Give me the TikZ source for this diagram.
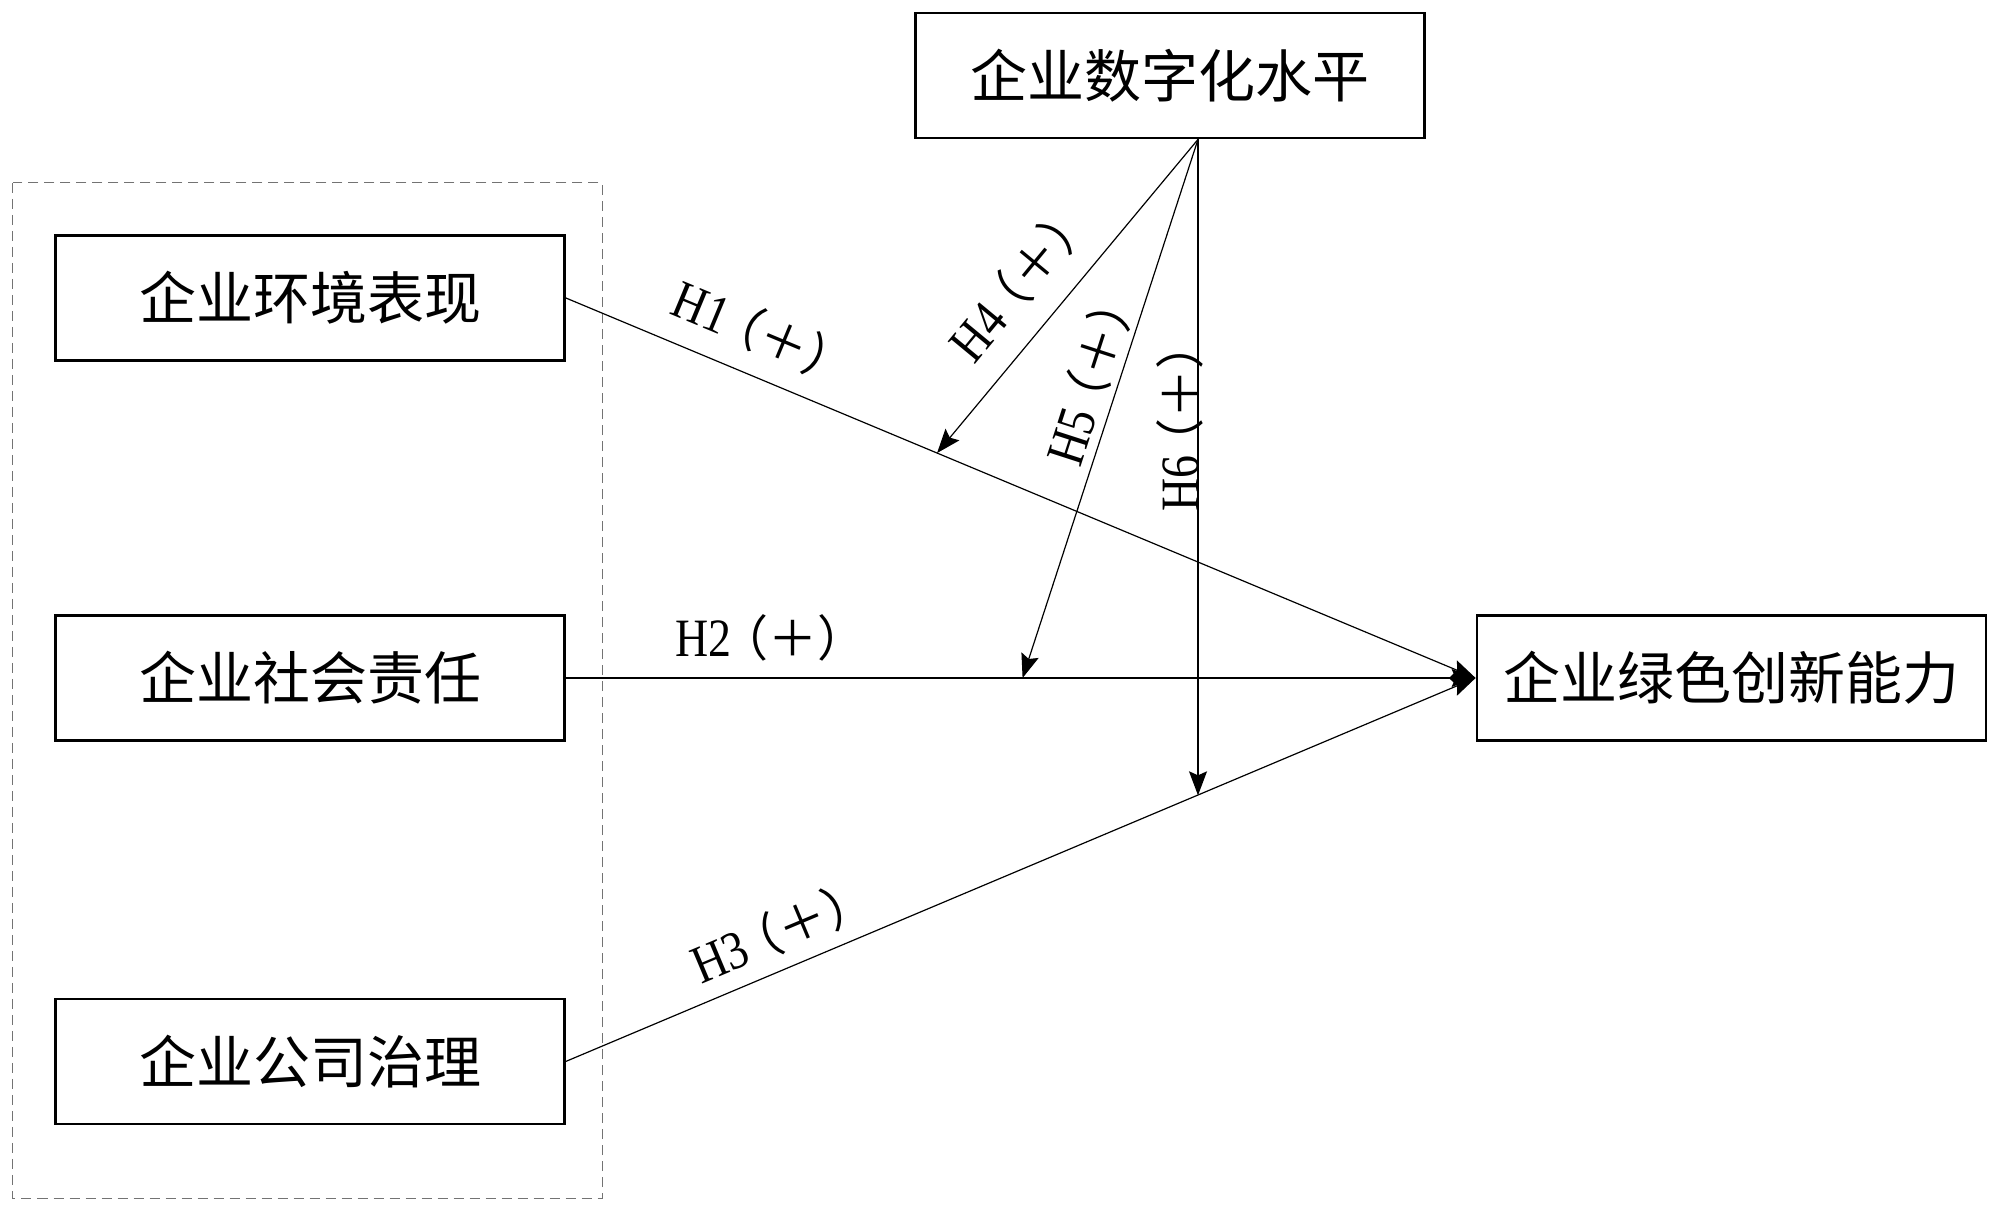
\documentclass[tikz,border=0pt]{standalone}
\usepackage{graphicx}
\usepackage{fontspec}
\setmainfont{Liberation Serif}
\newfontfamily\cjk{Noto Sans CJK SC}
\usetikzlibrary{arrows.meta,calc}
\newcommand{\hyp}[1]{\scalebox{0.85}[1]{\fontsize{27pt}{29pt}\selectfont H#1}\hspace{-6pt}{\cjk\fontsize{24.5pt}{26pt}\selectfont（＋）}}
\begin{document}
\begin{tikzpicture}[x=0.5pt,y=-0.5pt,
  box/.style={draw, line width=1.4pt, minimum width=254.5pt, minimum height=62.5pt, inner sep=0pt,
    font=\cjk\fontsize{28.5pt}{30pt}\selectfont},
  conn/.style={line width=0.6pt, -{Stealth[length=12pt,width=9pt,inset=2pt]}},
  dashbox/.style={draw=black!55, line width=0.6pt, dash pattern=on 5pt off 3pt},
  lab/.style={inner sep=0pt}]
\useasboundingbox (0,0) rectangle (2000,1213);
% group frame
\draw[dashbox] (12.8,182.9) rectangle (602.3,1198.2);
% boxes
\node[box] (dig) at (1170,75.5) {企业数字化水平};
\node[box] (e1) at (310,298) {企业环境表现};
\node[box] (e2) at (310,678) {企业社会责任};
\node[box] (e3) at (310,1061.4) {企业公司治理};
\node[box] (out) at (1731.5,678) {企业绿色创新能力};
% main effects
\draw[conn] (e1.east) -- (out.west);
\draw[conn] (e2.east) -- (out.west);
\draw[conn] (e3.east) -- (out.west);
% moderation
\coordinate (apex) at ($(dig.south)+(28,0)$);
\coordinate (m4) at ($(e1.east)!0.408!(out.west)$);
\coordinate (m5) at ($(e2.east)!0.502!(out.west)$);
\coordinate (m6t) at ($(e3.east)!0.694!(out.west)$);
\coordinate (m6) at (apex |- m6t);
\draw[conn] (apex) -- (m4);
\draw[conn] (apex) -- (m5);
\draw[conn] (apex) -- (m6);
% labels
\node[lab, rotate=-22.6] (l1) at (764,333) {\hyp{1}};
\node[lab] (l2) at (771,638) {\hyp{2}};
\node[lab, rotate=22.8] (l3) at (782,930) {\hyp{3}};
\node[lab, rotate=50.4] (l4) at (1021,280) {\hyp{4}};
\node[lab, rotate=72.1] (l5) at (1092,372) {\hyp{5}};
\node[lab, rotate=90] (l6) at (1180,416) {\hyp{6}};
\end{tikzpicture}
\end{document}
